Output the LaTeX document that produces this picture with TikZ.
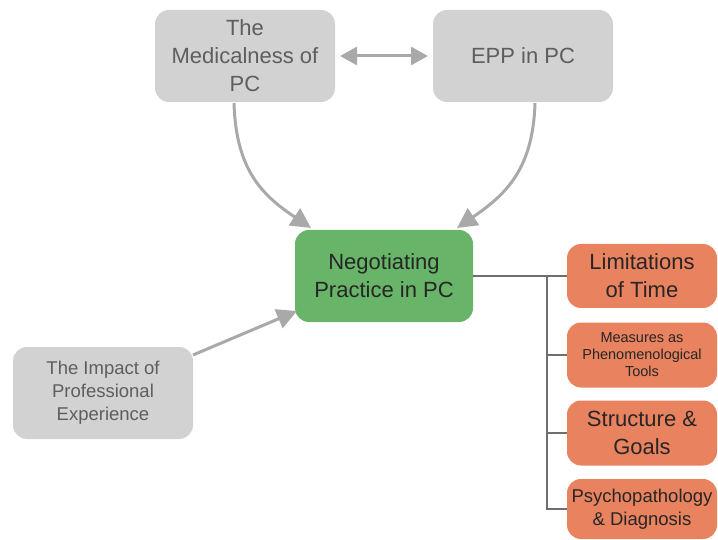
\documentclass[tikz,border=0pt]{standalone}
\usepackage{fontspec}
\setmainfont{Liberation Sans}
\usetikzlibrary{arrows.meta}
\definecolor{boxgray}{HTML}{D2D2D2}
\definecolor{boxgreen}{HTML}{68B468}
\definecolor{boxorange}{HTML}{E9825F}
\definecolor{txtgray}{HTML}{5E5E5E}
\definecolor{arrgray}{HTML}{A9A9A9}
\definecolor{linegray}{HTML}{6E6E6E}
\tikzset{
  box/.style={rounded corners=14pt, align=center, inner sep=2pt, minimum width=180pt, minimum height=92pt},
  graybox/.style={box, fill=boxgray, text=txtgray},
  greenbox/.style={box, fill=boxgreen, text=black!85, minimum width=178pt},
  orangebox/.style={box, fill=boxorange, text=black!85, minimum width=150pt, minimum height=64pt},
  bigfont/.style={font=\fontsize{22}{28}\selectfont},
  midfont/.style={font=\fontsize{18.5}{23}\selectfont},
  smallfont/.style={font=\fontsize{14.5}{17}\selectfont},
  flow/.style={draw=arrgray, line width=3pt, -{Triangle[length=20pt,width=20pt]}},
  both/.style={draw=arrgray, line width=3pt, {Triangle[length=17pt,width=18pt]}-{Triangle[length=17pt,width=18pt]}},
  bus/.style={draw=linegray, line width=1.5pt},
}
\begin{document}
\begin{tikzpicture}[x=1pt,y=-1pt]
\useasboundingbox (0,0) rectangle (718,540);
\node[graybox, bigfont] (med) at (245,56) {The\\Medicalness of\\PC};
\node[graybox, bigfont] (epp) at (523,56) {EPP in PC};
\node[greenbox, bigfont] (neg) at (384,276) {Negotiating\\Practice in PC};
\node[graybox, midfont] (imp) at (103,393) {The Impact of\\Professional\\Experience};
\node[orangebox, bigfont] (lim) at (642,276) {Limitations\\of Time};
\node[orangebox, smallfont, minimum height=65pt] (mea) at (642,355) {Measures as\\Phenomenological\\Tools};
\node[orangebox, bigfont, minimum height=65pt] (str) at (642,433) {Structure \&\\Goals};
\node[orangebox, midfont, minimum height=60pt] (psy) at (642,509) {Psychopathology\\\& Diagnosis};
% connectors
\coordinate (d1) at (340,56);
\coordinate (d2) at (428,56);
\draw[both] (d1) -- (d2);
\coordinate (m1) at (234,103);
\coordinate (m2) at (311,228);
\coordinate (e1) at (535,103);
\coordinate (e2) at (457,228);
\coordinate (i1) at (193,355);
\coordinate (i2) at (297,311);
\draw[flow] (m1) .. controls (236,170) and (262,195) .. (m2);
\draw[flow] (e1) .. controls (533,170) and (505,195) .. (e2);
\draw[flow] (i1) -- (i2);
\coordinate (busA) at (547,276);
\draw[bus] (neg.east) -- (lim.west);
\draw[bus] (busA) |- (mea.west);
\draw[bus] (busA) |- (str.west);
\draw[bus] (busA) |- (psy.west);
\end{tikzpicture}
\end{document}
